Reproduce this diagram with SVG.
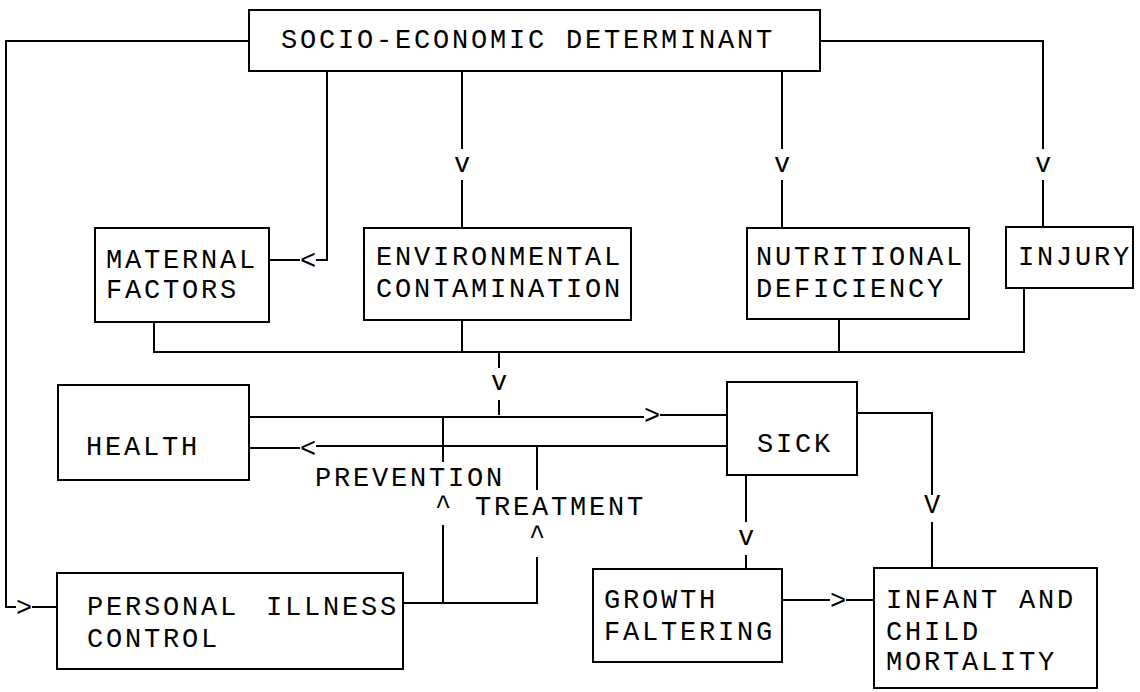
<svg xmlns="http://www.w3.org/2000/svg" width="1140" height="692" viewBox="0 0 1140 692">
<style>
.box{fill:#fff;stroke:#000;stroke-width:2}
.ln{fill:none;stroke:#000;stroke-width:2}
.t{font-family:"Liberation Mono","DejaVu Sans Mono",monospace;font-size:27px;letter-spacing:2.8px;fill:#000}
.ar{font-family:"Liberation Mono","DejaVu Sans Mono",monospace;font-size:27px;fill:#000;text-anchor:middle}
</style>
<rect width="1140" height="692" fill="#fff"/>
<g id="connectors">
<path class="ln" d="M249,41 H6 V607 H16"/>
<path class="ln" d="M32,607 H57"/>
<text class="ar" x="24" y="616">&gt;</text>
<path class="ln" d="M327,71 V260 H316"/>
<path class="ln" d="M300,260 H269"/>
<text class="ar" x="308" y="269">&lt;</text>
<path class="ln" d="M462,71 V149 M462,180 V228"/>
<text class="ar" x="462" y="172">v</text>
<path class="ln" d="M782,71 V149 M782,180 V228"/>
<text class="ar" x="782" y="172">v</text>
<path class="ln" d="M820,41 H1043 V149 M1043,180 V227"/>
<text class="ar" x="1043" y="172">v</text>
<path class="ln" d="M154,322 V352 H1024 V288 M462,320 V352 M839,319 V352"/>
<path class="ln" d="M499,352 V368 M499,400 V415"/>
<text class="ar" x="499" y="390">v</text>
<path class="ln" d="M249,417 H644 M660,415 H727"/>
<text class="ar" x="652" y="424">&gt;</text>
<path class="ln" d="M727,446 H316 M300,448 H249"/>
<text class="ar" x="308" y="457">&lt;</text>
<path class="ln" d="M443,417 V462 M443,525 V603"/>
<text class="ar" x="443" y="514">^</text>
<path class="ln" d="M403,603 H537 V557 M537,447 V490"/>
<text class="ar" x="537" y="544">^</text>
<path class="ln" d="M857,413 H932 V495 M932,522 V568"/>
<text class="ar" x="932" y="513">V</text>
<path class="ln" d="M746,475 V522 M746,555 V569"/>
<text class="ar" x="746" y="545">v</text>
<path class="ln" d="M782,600 H830 M846,600 H874"/>
<text class="ar" x="838" y="609">&gt;</text>
<text class="t" x="315" y="486">PREVENTION</text>
<text class="t" x="475" y="515">TREATMENT</text>
</g>
<g id="socio">
<rect class="box" x="249" y="10" width="571" height="61"/>
<text class="t" x="281" y="48">SOCIO-ECONOMIC DETERMINANT</text>
</g>
<g id="maternal">
<rect class="box" x="95" y="228" width="174" height="94"/>
<text class="t" x="106" y="268">MATERNAL</text>
<text class="t" x="106" y="298">FACTORS</text>
</g>
<g id="environmental">
<rect class="box" x="364" y="228" width="267" height="92"/>
<text class="t" x="376" y="265">ENVIRONMENTAL</text>
<text class="t" x="376" y="297">CONTAMINATION</text>
</g>
<g id="nutritional">
<rect class="box" x="747" y="228" width="222" height="91"/>
<text class="t" x="756" y="265">NUTRITIONAL</text>
<text class="t" x="756" y="297">DEFICIENCY</text>
</g>
<g id="injury">
<rect class="box" x="1006" y="227" width="127" height="61"/>
<text class="t" x="1018" y="265">INJURY</text>
</g>
<g id="health">
<rect class="box" x="58" y="385" width="191" height="95"/>
<text class="t" x="86" y="455">HEALTH</text>
</g>
<g id="sick">
<rect class="box" x="727" y="382" width="130" height="93"/>
<text class="t" x="757" y="452">SICK</text>
</g>
<g id="personal">
<rect class="box" x="57" y="573" width="346" height="96"/>
<text class="t" x="87" y="615">PERSONAL <tspan dx="8">ILLNESS</tspan></text>
<text class="t" x="87" y="647">CONTROL</text>
</g>
<g id="growth">
<rect class="box" x="593" y="569" width="189" height="93"/>
<text class="t" x="604" y="608">GROWTH</text>
<text class="t" x="604" y="640">FALTERING</text>
</g>
<g id="infant">
<rect class="box" x="874" y="568" width="223" height="120"/>
<text class="t" x="886" y="608">INFANT AND</text>
<text class="t" x="886" y="640">CHILD</text>
<text class="t" x="886" y="670">MORTALITY</text>
</g>
</svg>
